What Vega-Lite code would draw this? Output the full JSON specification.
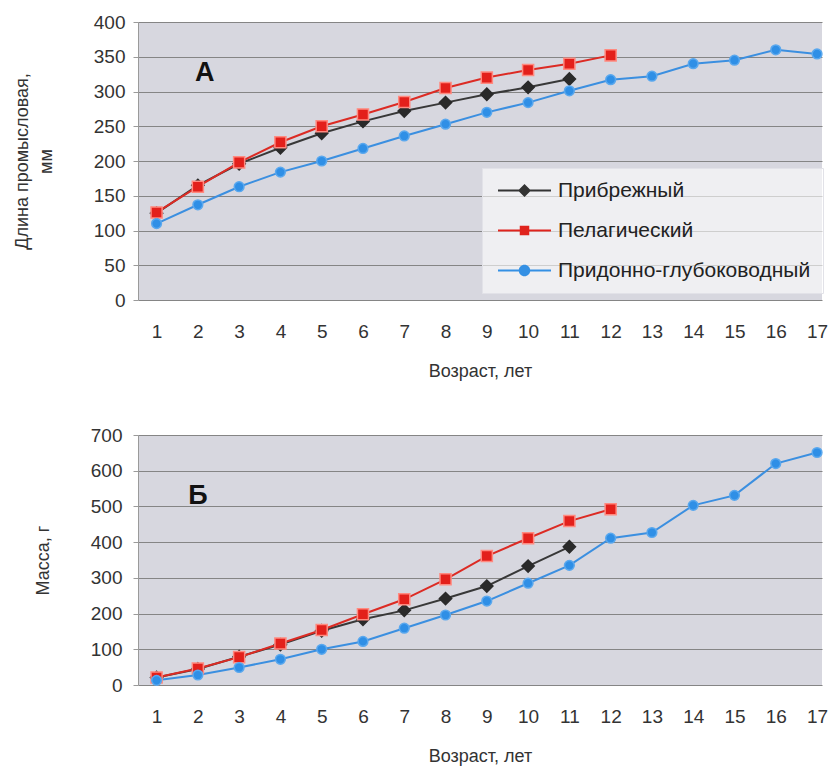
{
  "$schema": "https://vega.github.io/schema/vega-lite/v6.json",
  "padding": {"left": 13, "top": 13, "right": 4, "bottom": 5},
  "background": "white",
  "config": {
    "font": "Liberation Sans",
    "view": {"fill": "#d7d7df", "stroke": null},
    "axis": {
      "labelFont": "Liberation Sans", "titleFont": "Liberation Sans",
      "labelFontSize": 19, "titleFontSize": 18,
      "labelColor": "#333", "titleColor": "#333", "titleFontWeight": "normal",
      "gridColor": "#858585", "gridOpacity": 1, "gridWidth": 1,
      "domainColor": "#9a9a9a", "tickColor": "#9a9a9a", "labelOverlap": false
    }
  },
  "datasets": {
    "d": [
      {"age": 1, "series": "Прибрежный", "len": 125, "mass": 21},
      {"age": 2, "series": "Прибрежный", "len": 165, "mass": 45},
      {"age": 3, "series": "Прибрежный", "len": 196, "mass": 79},
      {"age": 4, "series": "Прибрежный", "len": 219, "mass": 113},
      {"age": 5, "series": "Прибрежный", "len": 240, "mass": 152},
      {"age": 6, "series": "Прибрежный", "len": 257, "mass": 184},
      {"age": 7, "series": "Прибрежный", "len": 272, "mass": 209},
      {"age": 8, "series": "Прибрежный", "len": 284, "mass": 242},
      {"age": 9, "series": "Прибрежный", "len": 296, "mass": 277},
      {"age": 10, "series": "Прибрежный", "len": 306, "mass": 333},
      {"age": 11, "series": "Прибрежный", "len": 318, "mass": 387},
      {"age": 1, "series": "Пелагический", "len": 126, "mass": 21},
      {"age": 2, "series": "Пелагический", "len": 163, "mass": 46},
      {"age": 3, "series": "Пелагический", "len": 198, "mass": 78},
      {"age": 4, "series": "Пелагический", "len": 227, "mass": 116},
      {"age": 5, "series": "Пелагический", "len": 250, "mass": 154},
      {"age": 6, "series": "Пелагический", "len": 267, "mass": 198},
      {"age": 7, "series": "Пелагический", "len": 285, "mass": 240},
      {"age": 8, "series": "Пелагический", "len": 305, "mass": 296},
      {"age": 9, "series": "Пелагический", "len": 320, "mass": 361},
      {"age": 10, "series": "Пелагический", "len": 331, "mass": 411},
      {"age": 11, "series": "Пелагический", "len": 340, "mass": 459},
      {"age": 12, "series": "Пелагический", "len": 352, "mass": 492},
      {"age": 1, "series": "Придонно-глубоководный", "len": 110, "mass": 13},
      {"age": 2, "series": "Придонно-глубоководный", "len": 137, "mass": 28},
      {"age": 3, "series": "Придонно-глубоководный", "len": 163, "mass": 49},
      {"age": 4, "series": "Придонно-глубоководный", "len": 184, "mass": 72},
      {"age": 5, "series": "Придонно-глубоководный", "len": 200, "mass": 100},
      {"age": 6, "series": "Придонно-глубоководный", "len": 218, "mass": 122},
      {"age": 7, "series": "Придонно-глубоководный", "len": 236, "mass": 159},
      {"age": 8, "series": "Придонно-глубоководный", "len": 253, "mass": 196},
      {"age": 9, "series": "Придонно-глубоководный", "len": 270, "mass": 235},
      {"age": 10, "series": "Придонно-глубоководный", "len": 284, "mass": 285},
      {"age": 11, "series": "Придонно-глубоководный", "len": 301, "mass": 335},
      {"age": 12, "series": "Придонно-глубоководный", "len": 317, "mass": 411},
      {"age": 13, "series": "Придонно-глубоководный", "len": 322, "mass": 427},
      {"age": 14, "series": "Придонно-глубоководный", "len": 340, "mass": 503},
      {"age": 15, "series": "Придонно-глубоководный", "len": 345, "mass": 531},
      {"age": 16, "series": "Придонно-глубоководный", "len": 360, "mass": 620},
      {"age": 17, "series": "Придонно-глубоководный", "len": 354, "mass": 651}
    ]
  },
  "spacing": 46,
  "resolve": {"scale": {"color": "independent", "fill": "independent", "stroke": "independent", "shape": "independent", "size": "independent"}},
  "vconcat": [
    {
      "width": 684,
      "height": 278,
      "resolve": {"scale": {"shape": "independent", "fill": "independent"}, "legend": {"shape": "independent", "fill": "independent"}},
      "layer": [
        {
          "data": {"name": "d"},
          "mark": {"type": "line", "strokeWidth": 2},
          "encoding": {
            "x": {"field": "age", "type": "quantitative",
              "scale": {"domain": [0.55, 17.12], "nice": false, "zero": false},
              "axis": {"values": [1,2,3,4,5,6,7,8,9,10,11,12,13,14,15,16,17], "format": "d", "grid": false, "ticks": false, "domain": false, "labelPadding": 22, "title": "Возраст, лет", "titlePadding": 21}},
            "y": {"field": "len", "type": "quantitative",
              "scale": {"domain": [0, 400], "nice": false},
              "axis": {"values": [0,50,100,150,200,250,300,350,400], "tickCount": 9, "tickSize": 5, "labelPadding": 8, "title": ["Длина промысловая,", "мм"], "titleLineHeight": 24, "titlePadding": 38}},
            "color": {"field": "series", "type": "nominal",
              "scale": {"domain": ["Прибрежный", "Пелагический", "Придонно-глубоководный"], "range": ["#383838", "#dc2b24", "#3b8fe0"]},
              "legend": null}
          }
        },
        {
          "data": {"name": "d"},
          "mark": {"type": "point", "filled": true, "strokeWidth": 1.5, "opacity": 1},
          "encoding": {
            "x": {"field": "age", "type": "quantitative"},
            "y": {"field": "len", "type": "quantitative"},
            "shape": {"field": "series", "scale": {"domain": ["Прибрежный", "Пелагический", "Придонно-глубоководный"], "range": ["diamond", "square", "circle"]}, "legend": null},
            "fill": {"field": "series", "scale": {"domain": ["Прибрежный", "Пелагический", "Придонно-глубоководный"], "range": ["#2a2a2a", "#e3201b", "#2f8fe6"]}, "legend": null},
            "stroke": {"field": "series", "scale": {"domain": ["Прибрежный", "Пелагический", "Придонно-глубоководный"], "range": ["#2a2a2a", "#ff8a80", "#5aa8ee"]}, "legend": null},
            "size": {"field": "series", "scale": {"domain": ["Прибрежный", "Пелагический", "Придонно-глубоководный"], "range": [150, 95, 120]}, "legend": null}
          }
        },
        {
          "data": {"name": "d"},
          "transform": [{"filter": "false"}],
          "mark": {"type": "point", "filled": true, "opacity": 1},
          "encoding": {
            "x": {"field": "age", "type": "quantitative"},
            "y": {"field": "len", "type": "quantitative"},
            "shape": {"field": "series", "type": "nominal",
              "scale": {"domain": ["Прибрежный", "Пелагический", "Придонно-глубоководный"], "range": ["M-5.3,-0.2H5.3V0.2H-5.3ZM0,-1.3L1.3,0L0,1.3L-1.3,0Z", "M-5.3,-0.2H5.3V0.2H-5.3ZM-0.95,-0.95H0.95V0.95H-0.95Z", "M-5.3,-0.2H5.3V0.2H-5.3ZM-1.15,0A1.15,1.15,0,1,1,1.15,0A1.15,1.15,0,1,1,-1.15,0Z"]},
              "legend": {
                "title": null, "orient": "none", "legendX": 344, "legendY": 146,
                "fillColor": "rgba(255,255,255,0.6)", "strokeColor": "#e2e2e8",
                "padding": 12, "labelFont": "Liberation Sans", "labelFontSize": 21, "labelColor": "#222",
                "labelLimit": 400, "symbolSize": 100, "symbolOffset": 20, "labelOffset": 23, "rowPadding": 18,
                "symbolStrokeWidth": 0
              }},
            "fill": {"field": "series", "type": "nominal",
              "scale": {"domain": ["Прибрежный", "Пелагический", "Придонно-глубоководный"], "range": ["#333333", "#e0231d", "#3490e4"]}}
          }
        },
        {
          "data": {"values": [{"x": 2.17, "y": 327, "t": "А"}]},
          "mark": {"type": "text", "fontSize": 27, "fontWeight": "bold", "font": "Liberation Sans", "color": "#111"},
          "encoding": {
            "x": {"field": "x", "type": "quantitative"},
            "y": {"field": "y", "type": "quantitative"},
            "text": {"field": "t"}
          }
        }
      ]
    },
    {
      "width": 684,
      "height": 250,
      "layer": [
        {
          "data": {"name": "d"},
          "mark": {"type": "line", "strokeWidth": 2},
          "encoding": {
            "x": {"field": "age", "type": "quantitative",
              "scale": {"domain": [0.55, 17.12], "nice": false, "zero": false},
              "axis": {"values": [1,2,3,4,5,6,7,8,9,10,11,12,13,14,15,16,17], "format": "d", "grid": false, "ticks": false, "domain": false, "labelPadding": 22, "title": "Возраст, лет", "titlePadding": 21}},
            "y": {"field": "mass", "type": "quantitative",
              "scale": {"domain": [0, 700], "nice": false},
              "axis": {"values": [0,100,200,300,400,500,600,700], "tickCount": 8, "tickSize": 5, "labelPadding": 11, "title": "Масса, г", "titlePadding": 38}},
            "color": {"field": "series", "type": "nominal",
              "scale": {"domain": ["Прибрежный", "Пелагический", "Придонно-глубоководный"], "range": ["#383838", "#dc2b24", "#3b8fe0"]},
              "legend": null}
          }
        },
        {
          "data": {"name": "d"},
          "mark": {"type": "point", "filled": true, "strokeWidth": 1.5, "opacity": 1},
          "encoding": {
            "x": {"field": "age", "type": "quantitative"},
            "y": {"field": "mass", "type": "quantitative"},
            "shape": {"field": "series", "scale": {"domain": ["Прибрежный", "Пелагический", "Придонно-глубоководный"], "range": ["diamond", "square", "circle"]}, "legend": null},
            "fill": {"field": "series", "scale": {"domain": ["Прибрежный", "Пелагический", "Придонно-глубоководный"], "range": ["#2a2a2a", "#e3201b", "#2f8fe6"]}, "legend": null},
            "stroke": {"field": "series", "scale": {"domain": ["Прибрежный", "Пелагический", "Придонно-глубоководный"], "range": ["#2a2a2a", "#ff8a80", "#5aa8ee"]}, "legend": null},
            "size": {"field": "series", "scale": {"domain": ["Прибрежный", "Пелагический", "Придонно-глубоководный"], "range": [150, 95, 120]}, "legend": null}
          }
        },
        {
          "data": {"values": [{"x": 2.0, "y": 529, "t": "Б"}]},
          "mark": {"type": "text", "fontSize": 27, "fontWeight": "bold", "font": "Liberation Sans", "color": "#111"},
          "encoding": {
            "x": {"field": "x", "type": "quantitative"},
            "y": {"field": "y", "type": "quantitative"},
            "text": {"field": "t"}
          }
        }
      ]
    }
  ]
}
